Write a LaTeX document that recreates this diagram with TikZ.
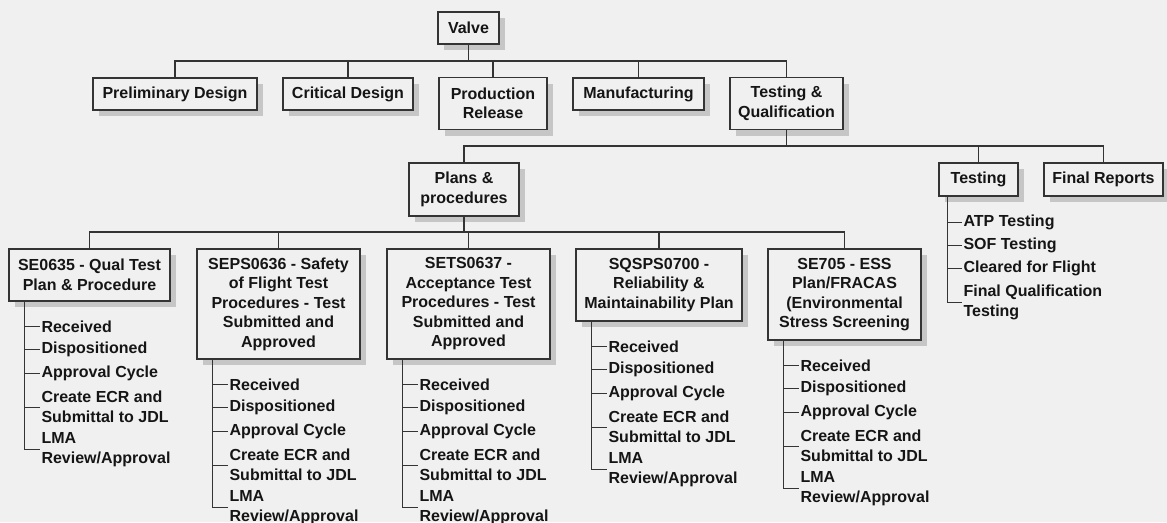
\documentclass[tikz,border=0pt]{standalone}
\usepackage{fontspec}
\setmainfont{Liberation Sans}
\usetikzlibrary{positioning,shadows}

\definecolor{bg}{HTML}{F0F0F0}
\definecolor{ink}{HTML}{151515}
\definecolor{wire}{HTML}{343434}
\definecolor{shade}{HTML}{C6C6C6}

\tikzset{
  box/.style 2 args={draw=wire, fill=bg, line width=1.3pt, align=center,
    minimum width=#1, minimum height=#2, inner xsep=2pt, inner ysep=0pt,
    text=ink, font=\fontsize{16}{19.5}\selectfont\bfseries,
    drop shadow={shadow xshift=6pt, shadow yshift=-6pt, fill=shade, opacity=1}},
  item/.style={anchor=west, align=left, inner xsep=1pt, inner ysep=0pt,
    text=ink, font=\fontsize{16}{20}\selectfont\bfseries},
  link/.style={draw=wire, line width=1.3pt},
}

\begin{document}
\begin{tikzpicture}[x=1pt,y=-1pt]
  \useasboundingbox (0,0) rectangle (1167,522);
  \fill[bg] (0,0) rectangle (1167,522);
  \clip (0,0) rectangle (1167,522);

  % top level and phases
  \node[box={61pt}{32pt}] (valve) at (468.5,28) {Valve};
  \node[box={164pt}{32pt}] (prelim) at (175,94) {Preliminary Design};
  \node[box={130pt}{32pt}] (critical) at (348,94) {Critical Design};
  \node[box={108pt}{52pt}] (release) at (493,103.5) {Production\\Release};
  \node[box={131pt}{32pt}] (manuf) at (638.5,94) {Manufacturing};
  \node[box={113pt}{52pt}] (testqual) at (786.5,103.5) {Testing \&\\Qualification};

  % testing & qualification
  \node[box={110pt}{53pt}] (plans) at (464,189.5) {Plans \&\\procedures};
  \node[box={79pt}{33pt}] (testing) at (978.5,179.5) {Testing};
  \node[box={119pt}{33pt}] (reports) at (1103.5,179.5) {Final Reports};

  % plans & procedures
  \node[box={161pt}{52pt}] (se0635) at (89.5,275) {SE0635 - Qual Test\\Plan \& Procedure};
  \node[box={163pt}{110pt}] (seps0636) at (278.5,304) {SEPS0636 - Safety\\of Flight Test\\Procedures - Test\\Submitted and\\Approved};
  \node[box={163pt}{110pt}] (sets0637) at (468.5,304) {SETS0637 -\\Acceptance Test\\Procedures - Test\\Submitted and\\Approved};
  \node[box={166pt}{72pt}] (sqsps0700) at (659,285) {SQSPS0700 -\\Reliability \&\\Maintainability Plan};
  \node[box={153pt}{91pt}] (se705) at (844.5,294.5) {SE705 - ESS\\Plan/FRACAS\\(Environmental\\Stress Screening};

  \coordinate (bus1) at (0,61);
  \coordinate (bus2) at (0,146);
  \coordinate (bus3) at (0,232);

  \foreach \c in {prelim,critical,release,manuf,testqual}
    \draw[link] (valve.south) |- (bus1 -| \c.north) -- (\c.north);
  \foreach \c in {plans,testing,reports}
    \draw[link] (testqual.south) |- (bus2 -| \c.north) -- (\c.north);
  \foreach \c in {se0635,seps0636,sets0637,sqsps0700,se705}
    \draw[link] (plans.south) |- (bus3 -| \c.north) -- (\c.north);

  % review steps under each document
  \foreach \d in {se0635,seps0636,sets0637,sqsps0700,se705} {
    \node[item] (\d-1) at ([xshift=32pt,yshift=-25pt]\d.south west) {Received};
    \node[item] (\d-2) at ([xshift=32pt,yshift=-48pt]\d.south west) {Dispositioned};
    \node[item] (\d-3) at ([xshift=32pt,yshift=-72pt]\d.south west) {Approval Cycle};
    \node[item] (\d-4) at ([xshift=32pt,yshift=-105.5pt]\d.south west) {Create ECR and\\Submittal to JDL};
    \node[item] (\d-5) at ([xshift=32pt,yshift=-148pt]\d.south west) {LMA\\Review/Approval};
    \foreach \i in {1,...,5}
      \draw[link] ([xshift=16pt]\d.south west) |- (\d-\i.west);
  }

  % testing steps
  \node[item] (atp) at ([xshift=24pt,yshift=-26pt]testing.south west) {ATP Testing};
  \node[item] (sof) at ([xshift=24pt,yshift=-49pt]testing.south west) {SOF Testing};
  \node[item] (cleared) at ([xshift=24pt,yshift=-72pt]testing.south west) {Cleared for Flight};
  \node[item] (finalqual) at ([xshift=24pt,yshift=-106pt]testing.south west) {Final Qualification\\Testing};
  \foreach \s in {atp,sof,cleared,finalqual}
    \draw[link] ([xshift=9pt]testing.south west) |- (\s.west);
\end{tikzpicture}
\end{document}
